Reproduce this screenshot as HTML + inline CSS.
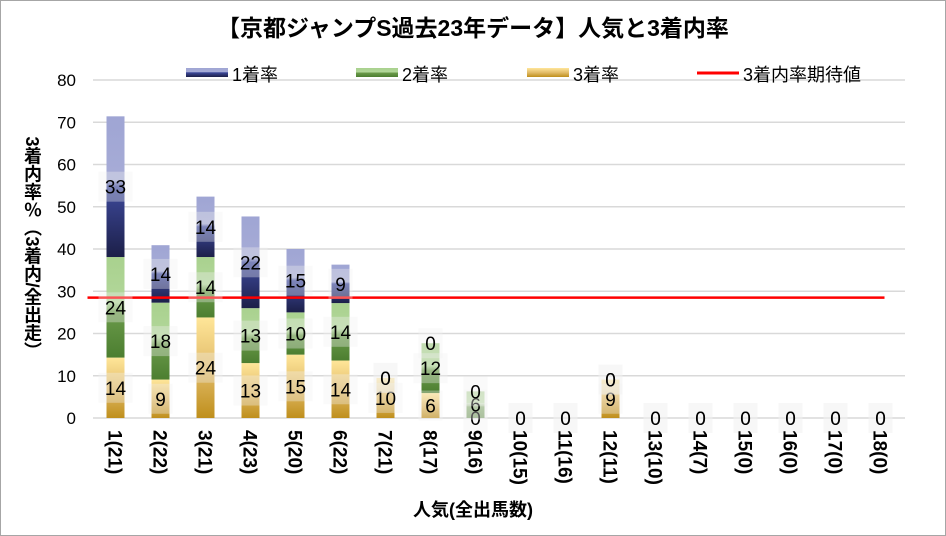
<!DOCTYPE html>
<html><head><meta charset="utf-8"><style>
body{margin:0;background:#fff;}
#wrap{position:relative;width:946px;height:536px;overflow:hidden;}
svg text{font-family:"Liberation Sans","Noto Sans CJK JP",sans-serif;}
</style></head><body>
<div id="wrap">
<svg id="c" width="946" height="536" xmlns="http://www.w3.org/2000/svg">
<defs>
<linearGradient id="g1" x1="0" y1="1" x2="0" y2="0"><stop offset="0" stop-color="#1c1f48"/><stop offset="0.5" stop-color="#3e4a9c"/><stop offset="0.55" stop-color="#a7acd6"/><stop offset="1" stop-color="#9fa5d4"/></linearGradient>
<linearGradient id="g2" x1="0" y1="1" x2="0" y2="0"><stop offset="0" stop-color="#4c7e30"/><stop offset="0.45" stop-color="#6a9a4a"/><stop offset="0.55" stop-color="#b2d79a"/><stop offset="1" stop-color="#a9d18e"/></linearGradient>
<linearGradient id="g3" x1="0" y1="1" x2="0" y2="0"><stop offset="0" stop-color="#bf8f1c"/><stop offset="0.5" stop-color="#e2bc6a"/><stop offset="1" stop-color="#ffe699"/></linearGradient>
</defs>
<rect x="0.5" y="0.5" width="945" height="535" fill="#fff" stroke="#a6a6a6"/>
<text x="473" y="36" text-anchor="middle" font-size="23" font-weight="bold">【京都ジャンプS過去23年データ】人気と3着内率</text>
<g id="grid"></g><g id="bars"></g><g id="line"></g><g id="labels"></g><g id="axes"></g>
<g>
<rect x="186" y="68" width="42" height="9" fill="url(#g1)"/>
<text x="232" y="81" font-size="18">1着率</text>
<rect x="356" y="68" width="42" height="9" fill="url(#g2)"/>
<text x="402" y="81" font-size="18">2着率</text>
<rect x="527" y="68" width="42" height="9" fill="url(#g3)"/>
<text x="573" y="81" font-size="18">3着率</text>
<line x1="697" y1="73" x2="739" y2="73" stroke="#ff0000" stroke-width="3"/>
<text x="743" y="81" font-size="18">3着内率期待値</text>
</g>
<text x="32" y="248" text-anchor="middle" font-size="18" font-weight="bold" style="writing-mode:vertical-rl">3着内率％（3着内/全出走）</text>
<text x="473" y="516" text-anchor="middle" font-size="18" font-weight="bold">人気(全出馬数)</text>
</svg></div>
<script>
const categories=["1(21)","2(22)","3(21)","4(23)","5(20)","6(22)","7(21)","8(17)","9(16)","10(15)","11(16)","12(11)","13(10)","14(7)","15(0)","16(0)","17(0)","18(0)"];
const first=[33.3,13.6,14.3,21.7,15,9.1,0,0,0,0,0,0,0,0,0,0,0,0];
const second=[23.8,18.2,14.3,13,10,13.6,0,11.8,6.3,0,0,0,0,0,0,0,0,0];
const third=[14.3,9.1,23.8,13,15,13.6,9.5,5.9,0,0,0,9.1,0,0,0,0,0,0];
const yTicks=[0,10,20,30,40,50,60,70,80];
const expected=[28.5];
const NS="http://www.w3.org/2000/svg";
const x0=93,step=45,y0=418,yk=338/80,bw=18;
const X=i=>x0+step*(i+0.5), Y=v=>y0-v*yk;
function mk(t,a,p){const e=document.createElementNS(NS,t);for(const k in a)e.setAttribute(k,a[k]);document.getElementById(p).appendChild(e);return e;}
yTicks.forEach(v=>{
 const l=mk('line',{x1:x0,x2:905,y1:Y(v),y2:Y(v),stroke:'#d9d9d9','stroke-width':1.5},'grid');
 
 
 const t=mk('text',{x:76,y:Y(v)+6,'text-anchor':'end','font-size':17},'axes');t.textContent=v;
 
 
});
const series=[[third,'g3'],[second,'g2'],[first,'g1']];
categories.forEach((c,i)=>{
 let base=0;
 series.forEach(([arr,g],s)=>{
  const v=arr[i];
  if(v>0){const r=mk('rect',{x:X(i)-bw/2,y:Y(base+v),width:bw,height:v*yk,fill:'url(#'+g+')'},'bars');
   
   }
  let mid=Y(base+v/2);
  if(!(s==2&&v==0&&base==0)){
   const txt=String(Math.round(v));
   const w=txt.length*10+14;
   const bg=mk('rect',{x:X(i)-w/2,y:mid-15,width:w,height:30,fill:'#f2f2f2','fill-opacity':0.35},'labels');
   
   
   const t=mk('text',{x:X(i),y:mid+7,'text-anchor':'middle','font-size':19},'labels');t.textContent=txt;
   
   
  }
  base+=v;
 });
 const t=mk('text',{transform:`translate(${X(i)-7},430) rotate(90)`,'font-size':19,'font-weight':'bold'},'axes');t.textContent=c;
 
 
});
const ln=mk('line',{x1:X(0)-28,x2:X(17)+4,y1:Y(expected[0]),y2:Y(expected[0]),stroke:'#ff0000','stroke-width':2.5},'line');


</script>
</body></html>
